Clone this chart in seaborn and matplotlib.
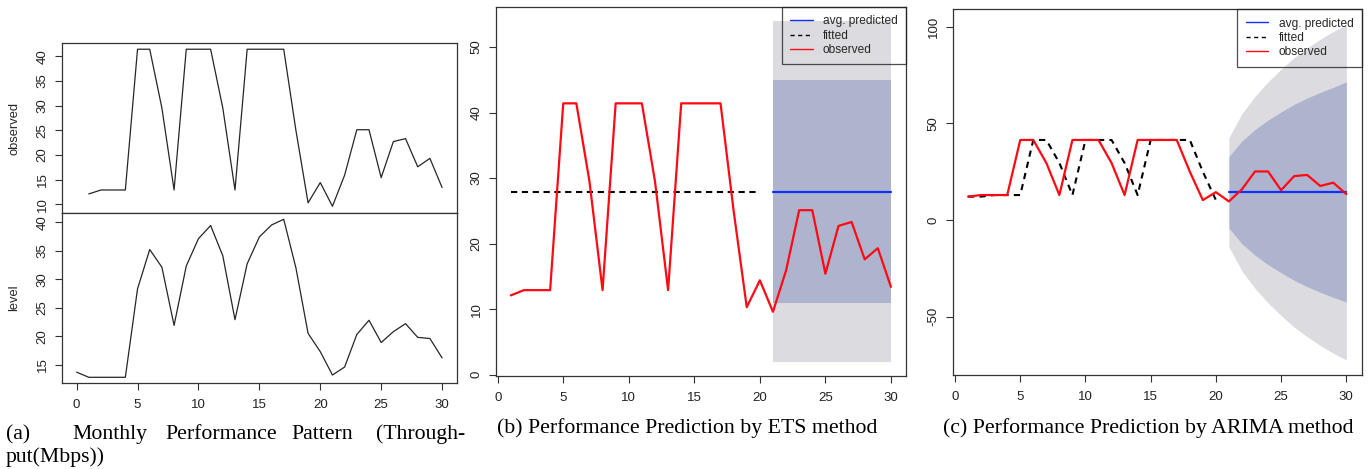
import numpy as np
import pandas as pd
import matplotlib
matplotlib.use("Agg")
import matplotlib.pyplot as plt
from matplotlib.lines import Line2D
import seaborn as sns

# ---------------- data ----------------
t_obs = list(range(1, 31))
observed = [12.1, 12.9, 12.9, 12.9, 41.4, 41.4, 29.5, 12.9, 41.4, 41.4,
            41.4, 29.5, 12.9, 41.4, 41.4, 41.4, 41.4, 25.0, 10.3, 14.4,
            9.6, 15.9, 25.1, 25.1, 15.4, 22.7, 23.3, 17.6, 19.3, 13.4]

t_level = list(range(0, 31))
level = [13.7, 12.8, 12.8, 12.8, 12.8, 28.3, 35.2, 32.1, 21.9, 32.3,
         37.1, 39.4, 34.1, 22.9, 32.7, 37.4, 39.5, 40.5, 32.0, 20.5,
         17.3, 13.2, 14.6, 20.3, 22.8, 18.9, 20.8, 22.2, 19.8, 19.6, 16.2]

t_fit = list(range(1, 21))
ets_fitted = [27.9] * 20
arima_fitted = [12.1, 12.1, 12.9, 12.9, 12.9, 41.4, 41.4, 29.5, 12.9, 41.4,
                41.4, 41.4, 29.5, 12.9, 41.4, 41.4, 41.4, 41.4, 25.0, 10.3]

t_fc = list(range(21, 31))
ets_mean = [27.9] * 10
ets_lo95 = [2.0] * 10
ets_hi95 = [53.9] * 10
ets_lo80 = [10.9] * 10
ets_hi80 = [44.9] * 10

arima_mean = [14.3] * 10
arima_hi95 = [42.6, 55.0, 64.0, 71.5, 78.0, 84.0, 89.0, 93.5, 97.5, 101.0]
arima_lo95 = [-14.0, -26.4, -35.4, -42.9, -49.4, -55.4, -60.4, -64.9, -68.9, -72.4]
arima_hi80 = [32.8, 40.9, 46.8, 51.7, 55.9, 59.8, 63.1, 66.0, 68.6, 71.5]
arima_lo80 = [-4.2, -12.3, -18.2, -23.1, -27.3, -31.2, -34.5, -37.4, -40.0, -42.5]

legend_labels = ["avg. predicted", "fitted", "observed"]
xticks = [0, 5, 10, 15, 20, 25, 30]
captions = ["(b) Performance Prediction by ETS method",
            "(c) Performance Prediction by ARIMA method"]
caption_a_words = ["(a)", "Monthly", "Performance", "Pattern", "(Through-"]
caption_a_line2 = "put(Mbps))"

# ---------------- style ----------------
sns.set_theme(style="white")
plt.rcParams["font.family"] = ["Liberation Sans", "DejaVu Sans"]
plt.rcParams["axes.edgecolor"] = "#333333"
plt.rcParams["axes.linewidth"] = 0.9
plt.rcParams["xtick.color"] = "#333333"
plt.rcParams["ytick.color"] = "#333333"
plt.rcParams["xtick.labelcolor"] = "#222222"
plt.rcParams["ytick.labelcolor"] = "#222222"

W, H = 1372, 469
fig = plt.figure(figsize=(W / 100, H / 100), dpi=100)
fig.patch.set_facecolor("white")

TICK_FS = 9.5


def ax_at(x0, y0, x1, y1):
    return fig.add_axes([x0 / W, 1 - y1 / H, (x1 - x0) / W, (y1 - y0) / H])


def style_ax(ax, yticks, show_x=True):
    ax.set_facecolor("white")
    for s in ax.spines.values():
        s.set_visible(True)
        s.set_color("#333333")
        s.set_linewidth(0.9)
    ax.set_yticks(yticks)
    ax.set_yticklabels([str(v) for v in yticks], rotation=90, va="center")
    ax.tick_params(axis="y", direction="out", length=5, width=0.8, pad=4.5,
                   labelsize=TICK_FS, left=True)
    if show_x:
        ax.set_xticks(xticks)
        ax.set_xticklabels([str(v) for v in xticks])
        ax.tick_params(axis="x", direction="out", length=5, width=0.8, pad=6.5,
                       labelsize=TICK_FS, bottom=True)
    else:
        ax.set_xticks([])
    ax.set_xlabel("")
    ax.set_ylabel("")


OUT_GRAY = "#DBDBE0"
IN_BLUE = "#AFB4CE"
RED = "#FF0A14"
BLUE = "#1030FF"

# ---------------- panel (a) ----------------
ax_a1 = ax_at(62, 43, 456.7, 213)
ax_a2 = ax_at(62, 213, 456.7, 383)
sns.lineplot(x=t_obs, y=observed, ax=ax_a1, color="#262626", lw=0.9)
sns.lineplot(x=t_level, y=level, ax=ax_a2, color="#262626", lw=0.9)
ax_a1.set_xlim(-1.2, 31.2)
ax_a2.set_xlim(-1.2, 31.2)
ax_a1.set_ylim(8.24, 42.66)
ax_a2.set_ylim(11.8, 41.6)
style_ax(ax_a1, [10, 15, 20, 25, 30, 35, 40], show_x=False)
style_ax(ax_a2, [15, 20, 25, 30, 35, 40], show_x=True)
ax_a1.set_ylabel("observed", fontsize=9.3, va="center")
ax_a1.yaxis.set_label_coords((14 - 62) / 394.7, 0.5)
ax_a2.set_ylabel("level", fontsize=9.3, va="center")
ax_a2.yaxis.set_label_coords((14 - 62) / 394.7, 0.5)


def legend(ax):
    handles = [Line2D([], [], color=BLUE, lw=1.0),
               Line2D([], [], color="black", lw=1.0, ls=(0, (3, 2.5))),
               Line2D([], [], color=RED, lw=1.0)]
    leg = ax.legend(handles, legend_labels, loc="upper right",
                    bbox_to_anchor=(1, 1), borderaxespad=0, frameon=True,
                    fancybox=False, fontsize=8.6, handlelength=1.9,
                    handletextpad=0.85, labelspacing=0.2, borderpad=0.7)
    fr = leg.get_frame()
    fr.set_edgecolor("#222222")
    fr.set_facecolor("none")
    fr.set_linewidth(0.9)
    return leg


# ---------------- panel (b) ETS ----------------
ax_b = ax_at(496, 7, 906, 376)
ax_b.fill_between(t_fc, ets_lo95, ets_hi95, color=OUT_GRAY, lw=0, zorder=1)
ax_b.fill_between(t_fc, ets_lo80, ets_hi80, color=IN_BLUE, lw=0, zorder=1.5)
sns.lineplot(x=t_fit, y=ets_fitted, ax=ax_b, color="black", lw=1.5,
             linestyle=(0, (3, 2.2)), zorder=3)
sns.lineplot(x=t_fc, y=ets_mean, ax=ax_b, color=BLUE, lw=1.6, zorder=3)
sns.lineplot(x=t_obs, y=observed, ax=ax_b, color=RED, lw=1.6, zorder=4)
ax_b.set_xlim(-0.13, 31.15)
ax_b.set_ylim(-0.2, 56.1)
style_ax(ax_b, [0, 10, 20, 30, 40, 50])
legend(ax_b)

# ---------------- panel (c) ARIMA ----------------
ax_c = ax_at(952.7, 9.3, 1361.7, 375)
ax_c.fill_between(t_fc, arima_lo95, arima_hi95, color=OUT_GRAY, lw=0, zorder=1)
ax_c.fill_between(t_fc, arima_lo80, arima_hi80, color=IN_BLUE, lw=0, zorder=1.5)
sns.lineplot(x=t_fit, y=arima_fitted, ax=ax_c, color="black", lw=1.5,
             linestyle=(0, (3, 2.5)), zorder=3)
sns.lineplot(x=t_fc, y=arima_mean, ax=ax_c, color=BLUE, lw=1.6, zorder=3)
sns.lineplot(x=t_obs, y=observed, ax=ax_c, color=RED, lw=1.6, zorder=4)
ax_c.set_xlim(-0.18, 31.18)
ax_c.set_ylim(-80.2, 109.0)
style_ax(ax_c, [-50, 0, 50, 100])
legend(ax_c)

# ---------------- captions ----------------
serif = ["Liberation Serif", "DejaVu Serif"]
cap_size = 15.7
fig.text(497 / W, 1 - 433 / H, captions[0], family=serif, size=cap_size,
         ha="left", va="baseline", color="black")
fig.text(943 / W, 1 - 433 / H, captions[1], family=serif, size=cap_size,
         ha="left", va="baseline", color="black")
# justified first line of caption (a)
word_x = [6, 72, 165, 291]
for wx, w in zip(word_x, caption_a_words[:4]):
    fig.text(wx / W, 1 - 439 / H, w, family=serif, size=cap_size,
             ha="left", va="baseline", color="black")
fig.text(465 / W, 1 - 439 / H, caption_a_words[4], family=serif, size=cap_size,
         ha="right", va="baseline", color="black")
fig.text(6 / W, 1 - 461.5 / H, caption_a_line2, family=serif, size=cap_size,
         ha="left", va="baseline", color="black")

fig.savefig("out.png", dpi=100, facecolor="white")
